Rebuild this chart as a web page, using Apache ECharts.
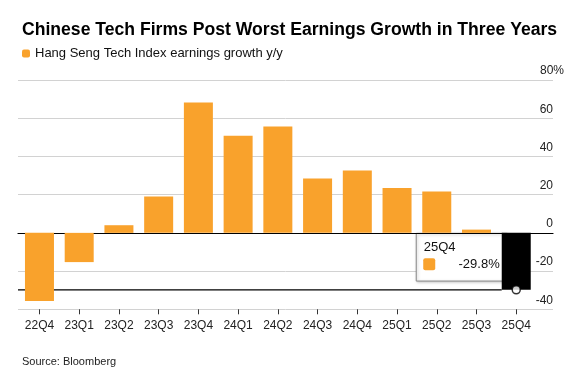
<!DOCTYPE html>
<html><head><meta charset="utf-8">
<script src="https://cdn.jsdelivr.net/npm/echarts@6/dist/echarts.min.js"></script>
<style>html,body{margin:0;padding:0;background:#fff}#c{width:584px;height:383px}</style>
</head><body><div id="c"></div>
<script>
const categories = ['22Q4','23Q1','23Q2','23Q3','23Q4','24Q1','24Q2','24Q3','24Q4','25Q1','25Q2','25Q3','25Q4'];
const growth = [-35.7, -15.3, 4.0, 19.0, 68.2, 50.8, 55.7, 28.4, 32.7, 23.5, 21.6, 1.7, -29.8];
const yTickValues = [-40, -20, 0, 20, 40, 60, 80];
const yTickLabels = ['-40', '-20', '0', '20', '40', '60', '80%'];
const seriesName = 'Hang Seng Tech Index earnings growth y/y';
const titleText = 'Chinese Tech Firms Post Worst Earnings Growth in Three Years';
const sourceText = 'Source: Bloomberg';
const highlightIndex = 12;

const FONT = '"Liberation Sans", Arial, Helvetica, sans-serif';
const ORANGE = '#F9A22C';
const chart = echarts.init(document.getElementById('c'), null, {renderer: 'canvas'});

const gridTop = 80, gridH = 229.3;
const option = {
  animation: false,
  textStyle: {fontFamily: FONT},
  title: [
    {text: titleText, left: 17, top: 16, textStyle: {fontFamily: FONT, fontSize: 17.6, fontWeight: 'bold', color: '#000'}},
    {text: sourceText, left: 17, top: 351, textStyle: {fontFamily: FONT, fontSize: 11, fontWeight: 'normal', color: '#222'}}
  ],
  legend: {
    data: [seriesName], left: 17, top: 42, icon: 'roundRect', itemWidth: 8, itemHeight: 8,
    selectedMode: false, textStyle: {fontFamily: FONT, fontSize: 13, color: '#111'}
  },
  grid: [
    {left: 19.6, top: gridTop, width: 516.5, height: gridH},
    {left: 18, top: gridTop, width: 535, height: gridH}
  ],
  xAxis: [
    {type: 'category', gridIndex: 0, data: categories,
     axisLine: {show: false, onZero: false},
     axisTick: {show: true, alignWithLabel: true, length: 5, lineStyle: {color: '#333'}},
     axisLabel: {fontFamily: FONT, fontSize: 12, color: '#222', margin: 10}},
    {type: 'value', gridIndex: 1, min: 0, max: 1,
     axisLine: {show: true, onZero: true, lineStyle: {color: '#000', width: 1.2}},
     axisTick: {show: false}, axisLabel: {show: false}, splitLine: {show: false}}
  ],
  yAxis: [
    {type: 'value', gridIndex: 0, min: -40, max: 80, interval: 20, show: false},
    {type: 'value', gridIndex: 1, min: -40, max: 80, interval: 20, position: 'right',
     axisLine: {show: false, onZero: false}, axisTick: {show: false},
     splitLine: {show: true, lineStyle: {color: '#d2d2d2', width: 1}},
     axisLabel: {
       inside: true, margin: -11, fontFamily: FONT, fontSize: 12, color: '#222',
       verticalAlign: 'bottom', padding: [0, 0, 3, 0],
       formatter: function (v) {
         const i = yTickValues.indexOf(v);
         const s = i >= 0 ? yTickLabels[i] : String(v);
         return s.endsWith('%') ? s : s + '{s|}';
       },
       rich: {s: {width: 11}}
     }}
  ],
  series: [
    {name: seriesName, type: 'bar', xAxisIndex: 0, yAxisIndex: 0, barWidth: 29, silent: true,
     itemStyle: {color: ORANGE},
     data: growth.map((v, i) => i === highlightIndex ? {value: v, itemStyle: {color: '#000'}} : v)},
    {name: 'point', type: 'scatter', xAxisIndex: 0, yAxisIndex: 0, silent: true, z: 5,
     symbolSize: 8, itemStyle: {color: '#fff', borderColor: '#000', borderWidth: 1.5},
     data: [[categories[highlightIndex], growth[highlightIndex]]]}
  ]
};
chart.setOption(option);

const pv = chart.convertToPixel({xAxisIndex: 0, yAxisIndex: 0}, [categories[highlightIndex], growth[highlightIndex]]);
const p0 = chart.convertToPixel({xAxisIndex: 0, yAxisIndex: 0}, [categories[highlightIndex], 0]);
const leftEdge = chart.convertToPixel({xAxisIndex: 1, yAxisIndex: 1}, [0, 0])[0];
const halfBar = 14.5;
const boxW = 91, boxH = 47.7;
const bx = pv[0] - 100.5, by = p0[1];
const valText = growth[highlightIndex].toFixed(1) + '%';

chart.setOption({
  graphic: [
    {type: 'line', z: 1, silent: true,
     shape: {x1: leftEdge, y1: pv[1], x2: pv[0] - halfBar, y2: pv[1]},
     style: {stroke: '#000', lineWidth: 1.2}},
    {type: 'group', left: bx, top: by, z: 100, silent: true, children: [
      {type: 'rect', shape: {x: 0, y: 0, width: boxW, height: boxH},
       style: {fill: '#fff', stroke: '#888', lineWidth: 1, shadowBlur: 3, shadowColor: 'rgba(0,0,0,0.25)', shadowOffsetX: 1, shadowOffsetY: 1}},
      {type: 'text', x: 7.5, y: 14.5,
       style: {text: categories[highlightIndex], font: '13px ' + FONT, fill: '#111', textVerticalAlign: 'middle'}},
      {type: 'rect', shape: {x: 7, y: 25, width: 12, height: 12, r: 2}, style: {fill: ORANGE}},
      {type: 'text', x: 83.5, y: 31,
       style: {text: valText, font: '13px ' + FONT, fill: '#111', textAlign: 'right', textVerticalAlign: 'middle'}}
    ]}
  ]
});
</script>
</body></html>
